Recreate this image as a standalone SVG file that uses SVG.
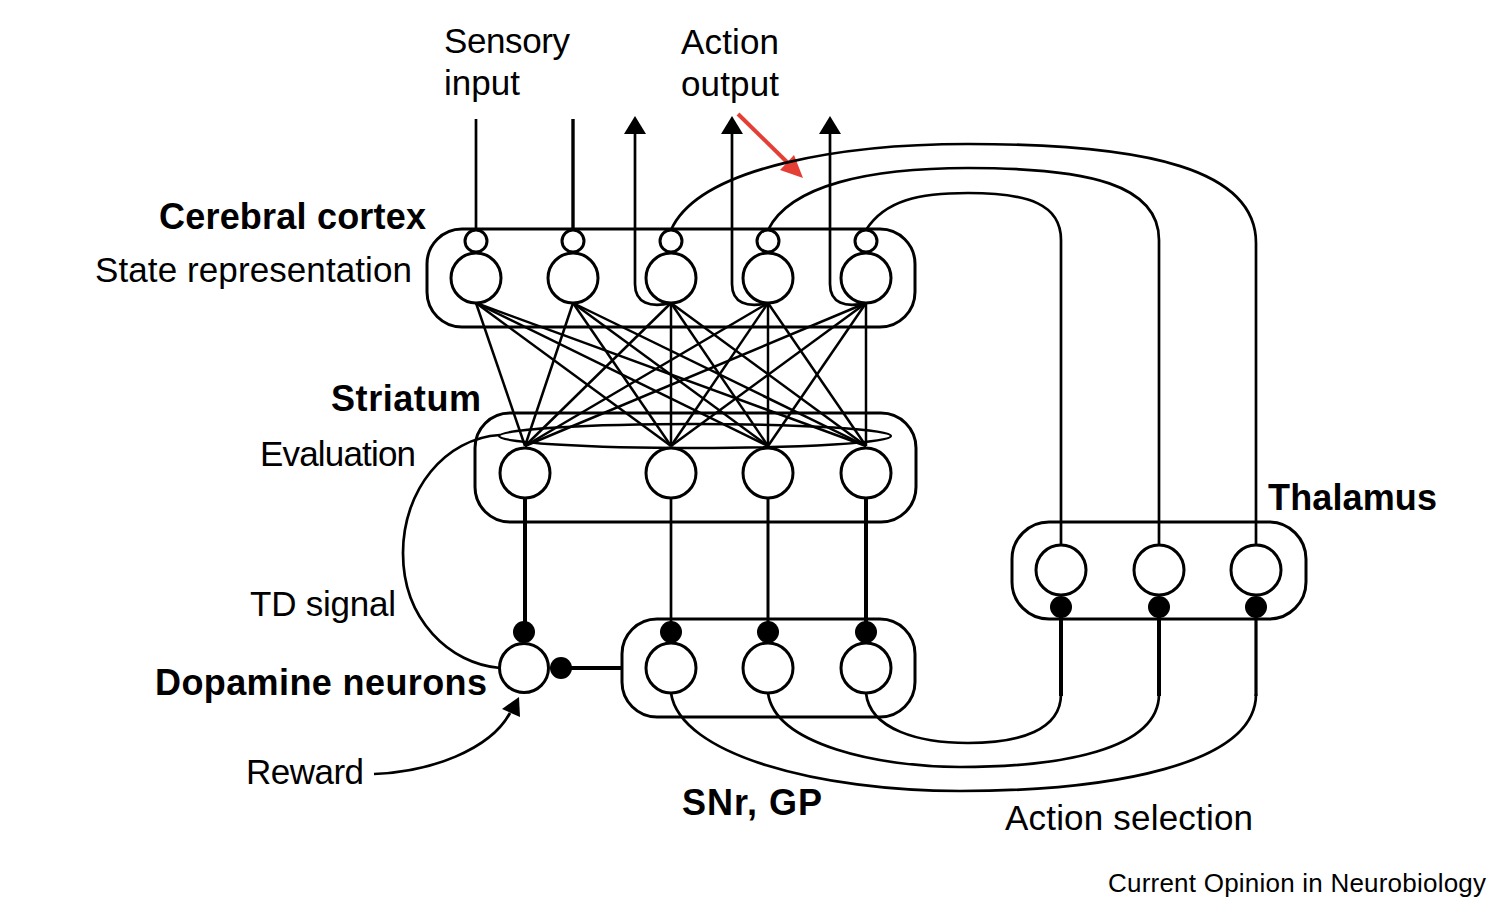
<svg xmlns="http://www.w3.org/2000/svg" width="1497" height="907" viewBox="0 0 1497 907">
<style>
.box{fill:none;stroke:#000;stroke-width:3}
.cell{fill:#fff;stroke:#000;stroke-width:3}
.dot{fill:#000}
.ln{fill:none;stroke:#000;stroke-width:2.7}
.fan{fill:none;stroke:#000;stroke-width:2.5}
.thick{fill:none;stroke:#000;stroke-width:4}
.t{font-family:"Liberation Sans",Arial,Helvetica,sans-serif;font-size:35px;fill:#000}
.b{font-family:"Liberation Sans",Arial,Helvetica,sans-serif;font-size:36px;font-weight:bold;fill:#000}
.s{font-family:"Liberation Sans",Arial,Helvetica,sans-serif;font-size:26px;fill:#000}
</style>
<rect width="1497" height="907" fill="#fff"/>

<g id="connectors">
  <!-- sensory input -->
  <line class="ln" x1="476" y1="119" x2="476" y2="230"/>
  <line class="ln" x1="573" y1="119" x2="573" y2="230" style="stroke-width:3.4"/>
  <!-- action output -->
  <path class="ln" d="M635,130 V284 C635,303 650,308 671,303"/>
  <path class="ln" d="M732,130 V284 C732,303 747,308 768,303"/>
  <path class="ln" d="M830,130 V284 C830,303 845,308 866,303"/>
  <polygon class="dot" points="635,116 624,134 646,134"/>
  <polygon class="dot" points="732,116 721,134 743,134"/>
  <polygon class="dot" points="830,116 819,134 841,134"/>
  <!-- red arrow -->
  <line x1="738" y1="114" x2="790" y2="165" stroke="#e53f35" stroke-width="4"/>
  <polygon fill="#e53f35" points="803,178 780,170 794,155"/>
  <!-- cortex to striatum fan -->
  <g class="fan">
    <line x1="476" y1="303" x2="525" y2="446"/><line x1="476" y1="303" x2="671" y2="446"/><line x1="476" y1="303" x2="768" y2="446"/><line x1="476" y1="303" x2="866" y2="446"/>
    <line x1="573" y1="303" x2="525" y2="446"/><line x1="573" y1="303" x2="671" y2="446"/><line x1="573" y1="303" x2="768" y2="446"/><line x1="573" y1="303" x2="866" y2="446"/>
    <line x1="671" y1="303" x2="525" y2="446"/><line x1="671" y1="303" x2="671" y2="446"/><line x1="671" y1="303" x2="768" y2="446"/><line x1="671" y1="303" x2="866" y2="446"/>
    <line x1="768" y1="303" x2="525" y2="446"/><line x1="768" y1="303" x2="671" y2="446"/><line x1="768" y1="303" x2="768" y2="446"/><line x1="768" y1="303" x2="866" y2="446"/>
    <line x1="866" y1="303" x2="525" y2="446"/><line x1="866" y1="303" x2="671" y2="446"/><line x1="866" y1="303" x2="768" y2="446"/><line x1="866" y1="303" x2="866" y2="446"/>
  </g>
  <!-- striatum to SNr / dopamine -->
  <line class="thick" x1="525" y1="498" x2="525" y2="632"/>
  <line class="ln" x1="671" y1="498" x2="671" y2="632"/>
  <line class="ln" x1="768" y1="498" x2="768" y2="632" style="stroke-width:3"/>
  <line class="thick" x1="866" y1="498" x2="866" y2="632"/>
  <!-- dopamine to SNr -->
  <line class="thick" x1="561" y1="668" x2="622" y2="668"/>
  <!-- TD signal -->
  <path class="ln" d="M500,435 C445,438 403,490 403,553 C403,620 450,664 500,668"/>
  <!-- reward -->
  <path class="ln" d="M374,774 C430,772 490,750 510,713"/>
  <polygon class="dot" points="519,697 502,709 520,717"/>
  <!-- cortex feedback from thalamus -->
  <path class="ln" d="M671,230 C700,165 850,144 968,144 C1150,144 1256,170 1256,243 V546"/>
  <path class="ln" d="M768,230 C790,185 870,168 968,168 C1090,168 1159,185 1159,240 V546"/>
  <path class="ln" d="M866,230 C885,200 920,193 968,193 C1030,193 1061,205 1061,240 V546"/>
  <!-- SNr to thalamus -->
  <path class="ln" d="M866,693 C870,730 920,743 968,743 C1020,743 1061,730 1061,694"/>
  <path class="ln" d="M768,693 C775,745 880,767 960,767 C1060,767 1159,750 1159,694"/>
  <path class="ln" d="M671,693 C680,755 820,791 960,791 C1110,791 1256,765 1256,694"/>
  <line class="thick" x1="1061" y1="607" x2="1061" y2="696"/>
  <line class="thick" x1="1159" y1="607" x2="1159" y2="696"/>
  <line class="thick" x1="1256" y1="607" x2="1256" y2="696" style="stroke-width:3.2"/>
</g>

<g id="cortex">
  <rect class="box" x="427" y="229" width="488" height="98" rx="35"/>
  <circle class="cell" cx="476" cy="241" r="11"/><circle class="cell" cx="476" cy="278" r="25"/>
  <circle class="cell" cx="573" cy="241" r="11"/><circle class="cell" cx="573" cy="278" r="25"/>
  <circle class="cell" cx="671" cy="241" r="11"/><circle class="cell" cx="671" cy="278" r="25"/>
  <circle class="cell" cx="768" cy="241" r="11"/><circle class="cell" cx="768" cy="278" r="25"/>
  <circle class="cell" cx="866" cy="241" r="11"/><circle class="cell" cx="866" cy="278" r="25"/>
</g>

<g id="striatum">
  <rect class="box" x="475" y="413" width="441" height="109" rx="35"/>
  <ellipse class="ln" cx="695" cy="436" rx="196" ry="12" style="stroke-width:2.4"/>
  <circle class="cell" cx="525" cy="473" r="25"/>
  <circle class="cell" cx="671" cy="473" r="25"/>
  <circle class="cell" cx="768" cy="473" r="25"/>
  <circle class="cell" cx="866" cy="473" r="25"/>
</g>

<g id="dopamine">
  <circle class="cell" cx="524" cy="668" r="24.5"/>
  <circle class="dot" cx="524" cy="632" r="11"/>
  <circle class="dot" cx="561" cy="668" r="11"/>
</g>

<g id="snr-gp">
  <rect class="box" x="622" y="619" width="293" height="98" rx="35"/>
  <circle class="cell" cx="671" cy="668" r="25"/>
  <circle class="cell" cx="768" cy="668" r="25"/>
  <circle class="cell" cx="866" cy="668" r="25"/>
  <circle class="dot" cx="671" cy="632" r="11"/>
  <circle class="dot" cx="768" cy="632" r="11"/>
  <circle class="dot" cx="866" cy="632" r="11"/>
</g>

<g id="thalamus">
  <rect class="box" x="1012" y="522" width="294" height="97" rx="37"/>
  <circle class="cell" cx="1061" cy="570" r="25"/>
  <circle class="cell" cx="1159" cy="570" r="25"/>
  <circle class="cell" cx="1256" cy="570" r="25"/>
  <circle class="dot" cx="1061" cy="607" r="11"/>
  <circle class="dot" cx="1159" cy="607" r="11"/>
  <circle class="dot" cx="1256" cy="607" r="11"/>
</g>

<g id="labels">
  <text class="t" x="444" y="53" textLength="126">Sensory</text>
  <text class="t" x="444" y="95" textLength="76">input</text>
  <text class="t" x="681" y="54" textLength="98">Action</text>
  <text class="t" x="681" y="96" textLength="98">output</text>
  <text class="b" x="159" y="229" textLength="267">Cerebral cortex</text>
  <text class="t" x="95" y="282" textLength="317">State representation</text>
  <text class="b" x="331" y="411" textLength="150">Striatum</text>
  <text class="t" x="260" y="466" textLength="156">Evaluation</text>
  <text class="t" x="250" y="616" textLength="146">TD signal</text>
  <text class="b" x="155" y="695" textLength="332">Dopamine neurons</text>
  <text class="t" x="246" y="784" textLength="118">Reward</text>
  <text class="b" x="682" y="815" textLength="140">SNr, GP</text>
  <text class="b" x="1268" y="510" textLength="169">Thalamus</text>
  <text class="t" x="1005" y="830" textLength="248">Action selection</text>
  <text class="s" x="1108" y="892" textLength="378">Current Opinion in Neurobiology</text>
</g>
</svg>
